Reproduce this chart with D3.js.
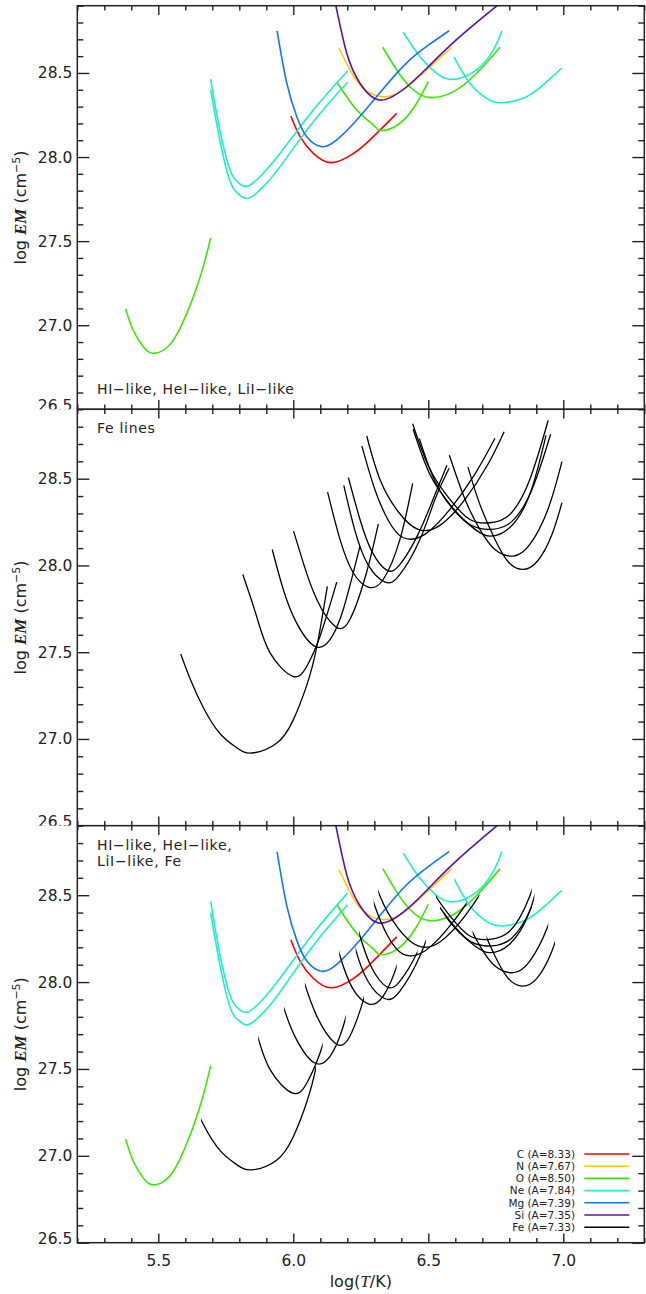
<!DOCTYPE html>
<html>
<head>
<meta charset="utf-8">
<script src="https://cdn.jsdelivr.net/npm/d3@7"></script>
<style>
  body { margin: 0; background: #fff; }
  text { font-family: "DejaVu Sans", sans-serif; fill: #222; }
  .axis text { font-size: 15.5px; fill: #222; }
</style>
</head>
<body>
<div id="chart"></div>
<script>
// ticks
var xMajor = [5.5, 6.0, 6.5, 7.0];
var yMajor = [26.5, 27.0, 27.5, 28.0, 28.5];

// legend
var elements = ["C", "N", "O", "Ne", "Mg", "Si", "Fe"];
var abundances = [8.33, 7.67, 8.50, 7.84, 7.39, 7.35, 7.33];

// EM loci, [log T, log EM]
var cLines = [
  [[5.991,28.244],[6.025,28.121],[6.074,28.022],[6.142,27.967],[6.222,28.02],[6.284,28.102],[6.383,28.26]]
];
var nLines = [
  [[6.169,28.647],[6.21,28.518],[6.259,28.409],[6.333,28.359],[6.407,28.399],[6.494,28.518],[6.587,28.653]]
];
var oLines = [
  [[5.379,27.097],[5.407,26.97],[5.444,26.873],[5.479,26.833],[5.531,26.866],[5.580,26.98],[5.630,27.17],[5.667,27.35],[5.694,27.519]],
  [[6.163,28.442],[6.235,28.28],[6.296,28.191],[6.327,28.157],[6.395,28.201],[6.457,28.32],[6.5,28.448]],
  [[6.331,28.653],[6.383,28.518],[6.432,28.418],[6.5,28.355],[6.593,28.389],[6.679,28.498],[6.766,28.653]]
];
var neLines = [
  [[5.694,28.464],[5.728,28.16],[5.766,27.923],[5.796,27.848],[5.833,27.828],[5.889,27.904],[5.951,28.022],[6.074,28.28],[6.201,28.512]],
  [[5.694,28.399],[5.728,28.10],[5.766,27.854],[5.796,27.781],[5.833,27.755],[5.889,27.824],[5.951,27.943],[6.074,28.21],[6.201,28.445]],
  [[6.407,28.742],[6.469,28.597],[6.531,28.498],[6.593,28.462],[6.679,28.518],[6.741,28.637],[6.773,28.751]],
  [[6.596,28.593],[6.654,28.439],[6.716,28.349],[6.772,28.323],[6.864,28.359],[6.939,28.448],[6.994,28.528]]
];
var mgLines = [
  [[5.940,28.750],[5.976,28.439],[6.013,28.24],[6.05,28.121],[6.105,28.062],[6.161,28.102],[6.235,28.22],[6.33,28.40],[6.42,28.56],[6.50,28.665],[6.577,28.751]]
];
var siLines = [
  [[6.150,28.96],[6.198,28.617],[6.247,28.439],[6.321,28.339],[6.42,28.418],[6.506,28.547],[6.617,28.716],[6.77,28.92]]
];
var feLines = [
  [[5.583,27.49],[5.617,27.35],[5.667,27.18],[5.729,27.03],[5.79,26.95],[5.846,26.919],[5.938,26.975],[6.0,27.11],[6.05,27.31],[6.087,27.53],[6.126,27.88]],
  [[5.813,27.948],[5.864,27.707],[5.914,27.496],[5.998,27.361],[6.05,27.419],[6.099,27.592],[6.161,27.904]],
  [[5.922,28.092],[5.963,27.861],[6.012,27.669],[6.08,27.534],[6.136,27.573],[6.185,27.746],[6.247,28.111]],
  [[6.001,28.198],[6.037,28.015],[6.087,27.804],[6.154,27.65],[6.21,27.69],[6.271,27.958],[6.315,28.24]],
  [[6.127,28.423],[6.173,28.15],[6.222,27.958],[6.278,27.875],[6.333,27.919],[6.395,28.15],[6.442,28.473]],
  [[6.187,28.461],[6.227,28.208],[6.276,28.006],[6.34,27.904],[6.395,27.948],[6.469,28.15],[6.525,28.381],[6.577,28.56]],
  [[6.204,28.506],[6.247,28.265],[6.291,28.081],[6.346,27.973],[6.395,28.006],[6.462,28.179],[6.525,28.41],[6.569,28.577]],
  [[6.254,28.688],[6.302,28.438],[6.35,28.265],[6.406,28.161],[6.487,28.179],[6.58,28.323],[6.672,28.525],[6.747,28.733]],
  [[6.272,28.746],[6.321,28.496],[6.388,28.311],[6.462,28.208],[6.543,28.231],[6.636,28.381],[6.721,28.583],[6.781,28.771]],
  [[6.442,28.817],[6.506,28.554],[6.58,28.381],[6.654,28.265],[6.728,28.246],[6.802,28.294],[6.876,28.496],[6.944,28.837]],
  [[6.444,28.785],[6.506,28.525],[6.58,28.352],[6.654,28.236],[6.735,28.208],[6.81,28.254],[6.884,28.438],[6.953,28.756]],
  [[6.467,28.731],[6.525,28.485],[6.599,28.311],[6.673,28.208],[6.728,28.169],[6.802,28.219],[6.876,28.41],[6.936,28.75]],
  [[6.578,28.636],[6.636,28.381],[6.691,28.208],[6.747,28.092],[6.815,28.054],[6.876,28.121],[6.943,28.323],[6.995,28.598]],
  [[6.647,28.567],[6.691,28.352],[6.747,28.15],[6.795,28.023],[6.846,27.977],[6.903,28.023],[6.958,28.179],[6.995,28.362]]
];
// log T range of each Fe locus kept in the combined panel
var feCut = [[5.658,6.084],[5.87,6.109],[5.966,6.194],[6.043,6.262],[6.17,6.383],[6.231,6.491],[6.244,6.46],
             [6.298,6.642],[6.315,6.689],[6.528,6.883],[6.543,6.884],[6.558,6.893],[6.664,6.944],[6.716,6.969]];

var colors = {C: "#ff0000", N: "#ffc800", O: "#3ce800", Ne: "#1eeecc", Mg: "#1474ff", Si: "#5a0fb0", Fe: "#000000"};
var colorSets = [["C", cLines], ["N", nLines], ["O", oLines], ["Ne", neLines], ["Mg", mgLines], ["Si", siLines]];

var W = 646, H = 1294;
var left = 77.3, right = 644.3;

var svg = d3.select('#chart').append('svg')
  .attr('width', W).attr('height', H);

var x = d3.scaleLinear().domain([5.2, 7.3]).range([left, right]);

var xMinor = d3.range(52, 74).map(function(d){ return d / 10; }).filter(function(d){ return xMajor.indexOf(d) < 0; });
var yMinor = d3.range(265, 290).map(function(d){ return d / 10; }).filter(function(d){ return yMajor.indexOf(d) < 0; });

var panels = [
  {top: 5.7, bottom: 409.3, label: ["HI\u2212like, HeI\u2212like, LiI\u2212like"], labelY: 394.3, colored: true, fe: false},
  {top: 409.3, bottom: 825.7, label: ["Fe lines"], labelY: 433.3, colored: false, fe: true},
  {top: 825.7, bottom: 1242.7, label: ["HI\u2212like, HeI\u2212like,", "LiI\u2212like, Fe"], labelY: 850, colored: true, fe: true, cut: true, last: true}
];

panels.forEach(function(p, pi){
  var y = d3.scaleLinear().domain([26.5, 28.9]).range([p.bottom, p.top]);
  var g = svg.append('g').attr('class', 'panel' + pi);

  // white background hides overflow of the panel above
  g.append('rect')
    .attr('x', 0).attr('y', p.top)
    .attr('width', W).attr('height', (p.last ? H : p.bottom) - p.top)
    .attr('fill', '#fff');

  g.append('clipPath').attr('id', 'clip' + pi)
    .append('rect')
    .attr('x', left).attr('y', p.top)
    .attr('width', right - left).attr('height', p.bottom - p.top);

  var line = d3.line()
    .x(function(d){ return x(d[0]); })
    .y(function(d){ return y(d[1]); })
    .curve(d3.curveNatural);

  var plot = g.append('g').attr('clip-path', 'url(#clip' + pi + ')');

  if (p.colored) {
    colorSets.forEach(function(s){
      plot.selectAll('.l-' + s[0]).data(s[1]).enter()
        .append('path')
        .attr('class', 'l-' + s[0])
        .attr('d', line)
        .attr('fill', 'none')
        .attr('stroke', colors[s[0]])
        .attr('stroke-width', 1.6);
    });
  }

  if (p.fe) {
    plot.selectAll('.fe').data(feLines).enter()
      .append('path')
      .attr('class', 'fe')
      .attr('d', line)
      .attr('fill', 'none')
      .attr('stroke', colors.Fe)
      .attr('stroke-width', 1.3)
      .attr('clip-path', function(d, i){
        if (!p.cut) return null;
        g.append('clipPath').attr('id', 'cut' + i)
          .append('rect')
          .attr('x', x(feCut[i][0])).attr('y', p.top)
          .attr('width', x(feCut[i][1]) - x(feCut[i][0]))
          .attr('height', p.bottom - p.top);
        return 'url(#cut' + i + ')';
      });
  }

  // axes, all ticks pointing inward
  function noDomain(a){ a.select('.domain').remove(); }
  var ax = g.append('g').attr('class', 'axis').attr('color', '#222');

  var yl = ax.append('g').attr('transform', 'translate(' + left + ',0)')
    .call(d3.axisLeft(y).tickValues(yMajor).tickSize(-12).tickPadding(5).tickFormat(d3.format('.1f')))
    .call(noDomain);
  yl.selectAll('text').filter(function(d){ return d === 26.5; }).attr('dy', '0.08em');
  ax.append('g').attr('transform', 'translate(' + left + ',0)')
    .call(d3.axisLeft(y).tickValues(yMinor).tickSize(-6).tickFormat(''))
    .call(noDomain);
  ax.append('g').attr('transform', 'translate(' + right + ',0)')
    .call(d3.axisRight(y).tickValues(yMajor).tickSize(-12).tickFormat(''))
    .call(noDomain);
  ax.append('g').attr('transform', 'translate(' + right + ',0)')
    .call(d3.axisRight(y).tickValues(yMinor).tickSize(-6).tickFormat(''))
    .call(noDomain);

  ax.append('g').attr('transform', 'translate(0,' + p.top + ')')
    .call(d3.axisTop(x).tickValues(xMajor).tickSize(-9.3).tickFormat(''))
    .call(noDomain);
  ax.append('g').attr('transform', 'translate(0,' + p.top + ')')
    .call(d3.axisTop(x).tickValues(xMinor).tickSize(-4.7).tickFormat(''))
    .call(noDomain);
  ax.append('g').attr('transform', 'translate(0,' + p.bottom + ')')
    .call(d3.axisBottom(x).tickValues(xMajor).tickSize(-9.3).tickPadding(12)
      .tickFormat(p.last ? d3.format('.1f') : ''))
    .call(noDomain);
  ax.append('g').attr('transform', 'translate(0,' + p.bottom + ')')
    .call(d3.axisBottom(x).tickValues(xMinor).tickSize(-4.7).tickFormat(''))
    .call(noDomain);
  ax.selectAll('.tick line').attr('stroke-width', 1.4);

  g.append('rect')
    .attr('x', left).attr('y', p.top)
    .attr('width', right - left).attr('height', p.bottom - p.top)
    .attr('fill', 'none').attr('stroke', '#222').attr('stroke-width', 1.5);

  // panel note
  p.label.forEach(function(t, i){
    g.append('text')
      .attr('x', 97).attr('y', p.labelY + i * 15.5)
      .style('font-size', '14px').style('letter-spacing', '0.7px')
      .text(t);
  });

  // y title
  var yt = g.append('text')
    .attr('transform', 'translate(26,' + ((p.top + p.bottom) / 2) + ') rotate(-90)')
    .attr('text-anchor', 'middle')
    .style('font-size', '16px');
  yt.append('tspan').text('log ');
  yt.append('tspan').text('EM')
    .style('font-family', '"Liberation Serif", serif')
    .style('font-weight', 'bold').style('font-style', 'italic').style('font-size', '17px');
  yt.append('tspan').text(' (cm');
  yt.append('tspan').text('\u22125').attr('dy', -6).style('font-size', '11px');
  yt.append('tspan').text(')').attr('dy', 6);

  if (p.last) {
    var xt = g.append('text')
      .attr('x', (left + right) / 2).attr('y', 1287)
      .attr('text-anchor', 'middle')
      .style('font-size', '16px');
    xt.append('tspan').text('log(');
    xt.append('tspan').text('T')
      .style('font-family', '"Liberation Serif", serif').style('font-style', 'italic').style('font-size', '17px');
    xt.append('tspan').text('/K)');

    // legend
    var leg = g.append('g').attr('class', 'legend');
    var rows = leg.selectAll('g').data(elements).enter().append('g')
      .attr('transform', function(d, i){ return 'translate(0,' + (1154 + i * 12.2) + ')'; });
    rows.append('text')
      .attr('x', 575).attr('text-anchor', 'end').attr('dy', '0.36em')
      .style('font-size', '10.5px')
      .text(function(d, i){ return d + ' (A=' + abundances[i].toFixed(2) + ')'; });
    rows.append('line')
      .attr('x1', 584.3).attr('x2', 629.3)
      .attr('stroke', function(d){ return colors[d]; })
      .attr('stroke-width', 1.6);
  }
});
</script>
</body>
</html>
